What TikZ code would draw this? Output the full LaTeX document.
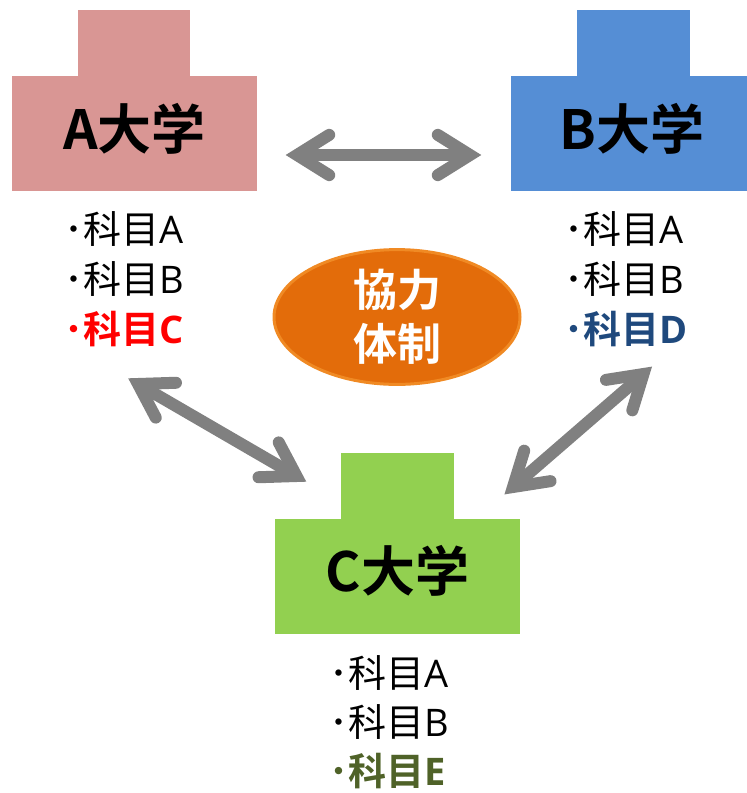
\documentclass[tikz,border=0pt]{standalone}
\usepackage{fontspec}
\setmainfont{Noto Sans CJK JP}
\newfontfamily\jpbold{Noto Sans CJK JP Bold}
\newfontfamily\lat{Open Sans}
\usetikzlibrary{calc,shapes.geometric}
\definecolor{pinkA}{HTML}{D99694}
\definecolor{blueB}{HTML}{558ED5}
\definecolor{greenC}{HTML}{92D050}
\definecolor{arrowgray}{HTML}{808080}
\definecolor{ellfill}{HTML}{E36C0A}
\definecolor{ellborder}{HTML}{F08A24}
\definecolor{darkblue}{HTML}{1F497D}
\definecolor{olive}{HTML}{4F6228}
\newcommand{\biarrow}[2]{%
  \draw[arrowshaft] (#1) -- (#2);
  \draw[arrowhead] ($(#1)!38pt!32:(#2)$) -- (#1) -- ($(#1)!38pt!-32:(#2)$);
  \draw[arrowhead] ($(#2)!38pt!32:(#1)$) -- (#2) -- ($(#2)!38pt!-32:(#1)$);
}
\tikzset{
  uniname/.style={font=\jpbold\fontsize{54}{60}\selectfont, text=black},
  item/.style={font=\fontsize{38}{46}\selectfont, anchor=base west, inner sep=0pt},
  itembold/.style={item, font=\jpbold\fontsize{38}{46}\selectfont},
  arrowshaft/.style={draw=arrowgray, line width=12pt},
  arrowhead/.style={draw=arrowgray, line width=12pt, line cap=round, line join=miter},
}
\begin{document}
\begin{tikzpicture}[x=1pt, y=-1pt]
\useasboundingbox (0,0) rectangle (747,793);
% A block
\fill[pinkA] (78,10) rectangle (190,77);
\fill[pinkA] (12,76) rectangle (257,191);
\node[uniname] (A) at (134.5,129) {A大学};
% B block
\fill[blueB] (577,10) rectangle (690,77);
\fill[blueB] (511,76) rectangle (747,191);
\node[uniname] (B) at (632,129) {B大学};
% C block
\fill[greenC] (341,453) rectangle (454,520);
\fill[greenC] (275,519) rectangle (520,634);
\node[uniname] (C) at (397.5,571) {C大学};
% lists
\node[item] (LA1) at (64,243) {･科目{\lat A}};
\node[item] (LA2) at (64,293) {･科目{\lat B}};
\node[itembold, text=red] (LA3) at (64,343) {･科目{\lat\bfseries C}};
\node[item] (LB1) at (564,243) {･科目{\lat A}};
\node[item] (LB2) at (564,293) {･科目{\lat B}};
\node[itembold, text=darkblue] (LB3) at (564,343) {･科目{\lat\bfseries D}};
\node[item] (LC1) at (329,687) {･科目{\lat A}};
\node[item] (LC2) at (329,736) {･科目{\lat B}};
\node[itembold, text=olive, text depth=0pt] (LC3) at (329,785) {･科目{\lat\bfseries E}};
% ellipse
\node[ellipse, fill=ellfill, draw=ellborder, line width=3pt, minimum width=246pt, minimum height=106pt, inner sep=0pt,
  font=\jpbold\fontsize{44}{54}\selectfont, text=white, align=center] (K) at (397,317) {協力\\体制};
% arrows
\coordinate (a1) at (297,155);
\coordinate (a2) at (470,155);
\coordinate (b1) at (138,384);
\coordinate (b2) at (296.5,476);
\coordinate (c1) at (643.5,374);
\coordinate (c2) at (513,487);
\biarrow{a1}{a2}
\biarrow{b1}{b2}
\biarrow{c1}{c2}
\end{tikzpicture}
\end{document}
